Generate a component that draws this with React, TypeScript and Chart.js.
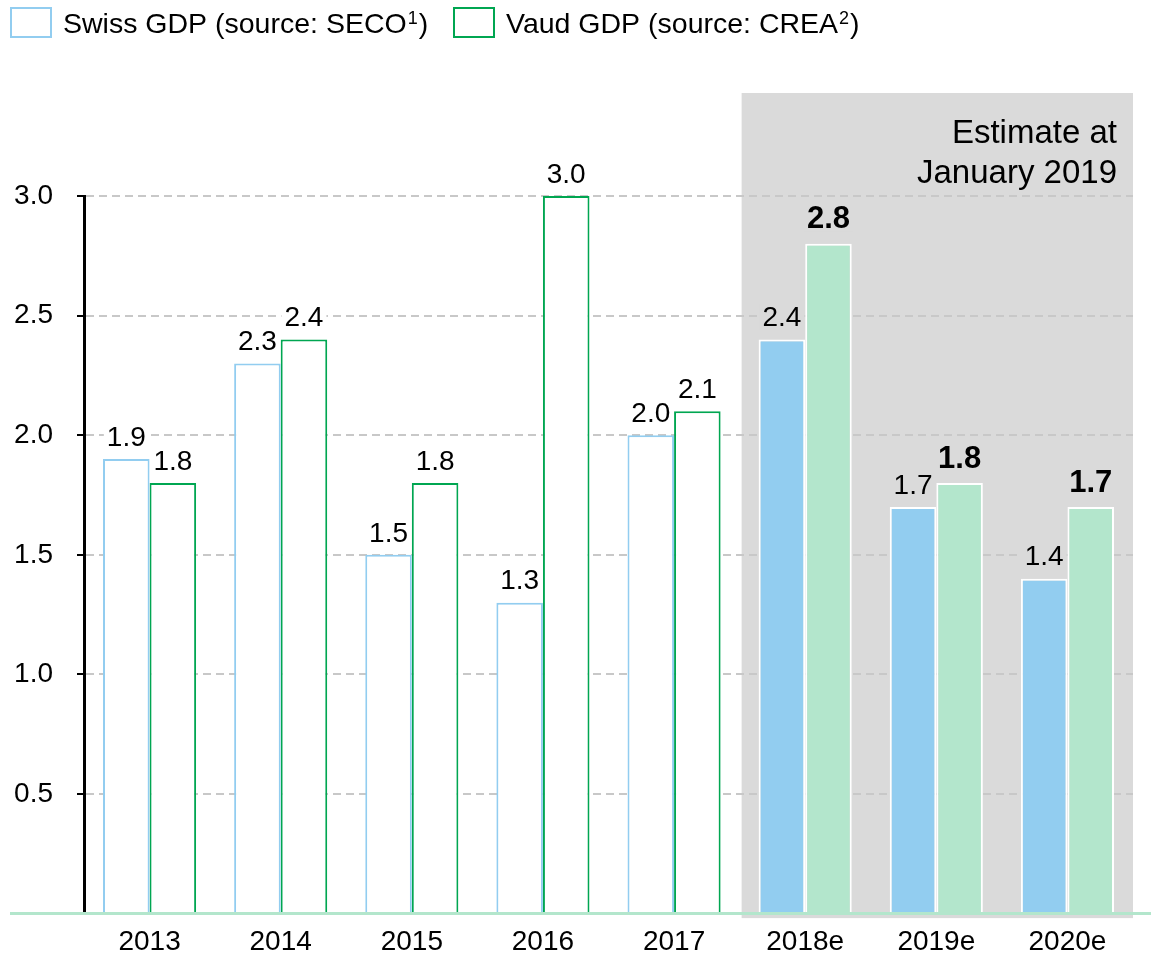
import React, { useEffect, useRef } from "react";
import { Chart, registerables } from "chart.js";

Chart.register(...registerables);

const categories = ["2013", "2014", "2015", "2016", "2017", "2018e", "2019e", "2020e"];
const swissGdp = [1.9, 2.3, 1.5, 1.3, 2.0, 2.4, 1.7, 1.4];
const vaudGdp = [1.8, 2.4, 1.8, 3.0, 2.1, 2.8, 1.8, 1.7];
const estimateFrom = 5; // index of first estimated year
const seriesNames = ["Swiss GDP (source: SECO", "Vaud GDP (source: CREA"];
const seriesNotes = ["1", "2"];
const boxLines = ["Estimate at", "January 2019"];

const FONT = '"Liberation Sans", Arial, sans-serif';
const BLUE = "#92cdf0";
const GREEN = "#00a651";
const MINT = "#b3e6cc";
const GRAY = "#dadada";

const isEst = (i: number) => i >= estimateFrom;

const decorPlugin = {
  id: "decor",
  beforeDraw(chart: any) {
    const { ctx, chartArea, scales } = chart;
    const x = scales.x;
    const step = x.getPixelForValue(1) - x.getPixelForValue(0);
    const left = x.getPixelForValue(estimateFrom) - step / 2 + 2;
    const right = chartArea.right;
    ctx.save();
    ctx.fillStyle = GRAY;
    ctx.fillRect(left, 93, right - left, chartArea.bottom + 4.5 - 93);
    ctx.fillStyle = "#000";
    ctx.font = `33px ${FONT}`;
    ctx.textAlign = "right";
    ctx.textBaseline = "alphabetic";
    ctx.fillText(boxLines[0], right - 16, 143);
    ctx.fillText(boxLines[1], right - 16, 183);
    ctx.restore();
  },
  afterDatasetsDraw(chart: any) {
    const { ctx, chartArea } = chart;
    ctx.save();
    // value labels
    chart.data.datasets.forEach((ds: any, di: number) => {
      const meta = chart.getDatasetMeta(di);
      meta.data.forEach((bar: any, i: number) => {
        const v = ds.data[i] as number;
        const bold = di === 1 && isEst(i);
        ctx.font = bold ? `bold 31px ${FONT}` : `28px ${FONT}`;
        const txt = v.toFixed(1);
        const w = ctx.measureText(txt).width;
        const cy = bar.y - (bold ? 25 : 22);
        ctx.fillStyle = isEst(i) ? GRAY : "#fff";
        ctx.fillRect(bar.x - w / 2 - 3, cy - 13, w + 6, 26);
        ctx.fillStyle = "#000";
        ctx.textAlign = "center";
        ctx.textBaseline = "middle";
        ctx.fillText(txt, bar.x, cy + 1);
      });
    });
    // bottom axis line
    ctx.strokeStyle = MINT;
    ctx.lineWidth = 3;
    ctx.beginPath();
    ctx.moveTo(10, chartArea.bottom);
    ctx.lineTo(chart.width, chartArea.bottom);
    ctx.stroke();
    // legend
    const items = [
      { x: 11, color: BLUE, tx: 63 },
      { x: 454, color: GREEN, tx: 506 },
    ];
    ctx.textAlign = "left";
    ctx.textBaseline = "alphabetic";
    items.forEach((it, k) => {
      ctx.strokeStyle = it.color;
      ctx.lineWidth = 2;
      ctx.strokeRect(it.x, 8, 40, 29);
      ctx.fillStyle = "#000";
      let cx = it.tx;
      ctx.font = `28.5px ${FONT}`;
      ctx.fillText(seriesNames[k], cx, 33);
      cx += ctx.measureText(seriesNames[k]).width + 1;
      ctx.font = `18px ${FONT}`;
      ctx.fillText(seriesNotes[k], cx, 24);
      cx += ctx.measureText(seriesNotes[k]).width + 1;
      ctx.font = `28.5px ${FONT}`;
      ctx.fillText(")", cx, 33);
    });
    ctx.restore();
  },
};

export default function App() {
  const ref = useRef<HTMLCanvasElement>(null);
  useEffect(() => {
    document.body.style.margin = "0";
    const chart = new Chart(ref.current!, {
      type: "bar",
      data: {
        labels: categories,
        datasets: [
          {
            label: seriesNames[0],
            data: swissGdp,
            backgroundColor: categories.map((_, i) => (isEst(i) ? BLUE : "#fff")),
            borderColor: categories.map((_, i) => (isEst(i) ? "#fff" : BLUE)),
            borderWidth: 2,
            borderSkipped: "start",
          },
          {
            label: seriesNames[1],
            data: vaudGdp,
            backgroundColor: categories.map((_, i) => (isEst(i) ? MINT : "#fff")),
            borderColor: categories.map((_, i) => (isEst(i) ? "#fff" : GREEN)),
            borderWidth: 2,
            borderSkipped: "start",
          },
        ],
      },
      options: {
        responsive: false,
        animation: false,
        events: [],
        layout: { padding: { top: 196, right: 18, bottom: 0, left: 0 } },
        datasets: { bar: { categoryPercentage: 0.71, barPercentage: 1 } },
        plugins: { legend: { display: false }, tooltip: { enabled: false }, title: { display: false } },
        scales: {
          x: {
            grid: { display: false, drawTicks: false },
            border: { display: false },
            ticks: { color: "#000", font: { family: FONT, size: 28 }, padding: 12, maxRotation: 0 },
            afterFit: (s: any) => {
              s.height = 44.4;
            },
          },
          y: {
            min: 0,
            max: 3,
            ticks: {
              stepSize: 0.5,
              color: "#000",
              font: { family: FONT, size: 28 },
              padding: 24,
              callback: (v: any) => (Number(v) === 0 ? "" : Number(v).toFixed(1)),
            },
            grid: {
              color: (c: any) => (c.tick && c.tick.value === 0 ? "rgba(0,0,0,0)" : "#c8c8c8"),
              lineWidth: 2,
              drawTicks: true,
              tickLength: 7,
              tickColor: "#000",
              tickWidth: 2,
              tickBorderDash: [],
            },
            border: { display: true, color: "#000", width: 3, dash: [8, 5] },
            afterFit: (s: any) => {
              s.width = 84;
            },
          },
        },
      },
      plugins: [decorPlugin],
    });
    return () => chart.destroy();
  }, []);
  return (
    <div style={{ width: 1151, height: 958 }}>
      <canvas ref={ref} width={1151} height={958} style={{ display: "block", width: 1151, height: 958 }} />
    </div>
  );
}
